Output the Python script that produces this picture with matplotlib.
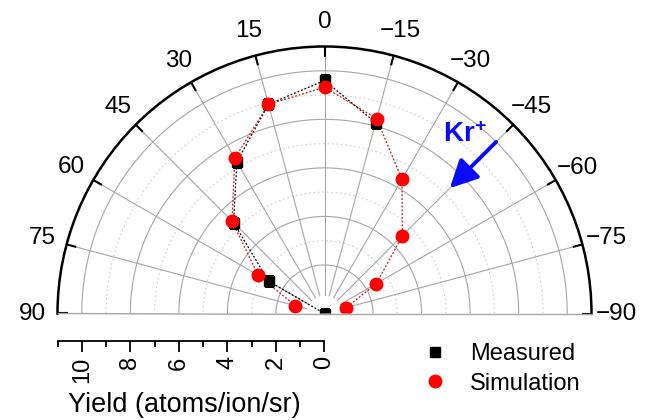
import numpy as np
import matplotlib
matplotlib.use("Agg")
import matplotlib.pyplot as plt
from matplotlib.ticker import FixedLocator

plt.rcParams['font.family'] = ['Liberation Sans', 'DejaVu Sans']
plt.rcParams['mathtext.fontset'] = 'custom'
plt.rcParams['mathtext.rm'] = 'Liberation Sans'
plt.rcParams['mathtext.bf'] = 'Liberation Sans:bold'

# ---- data ----
measured_angle = [-15, 0, 15, 30, 45, 60, 90]
measured_yield = [8.14, 9.60, 8.92, 7.22, 5.30, 2.66, 0.0]

sim_angle = [75, 60, 45, 30, 15, 0, -15, -30, -45, -60, -75]
sim_yield = [1.24, 3.16, 5.39, 7.39, 8.92, 9.32, 8.31, 6.38, 4.54, 2.47, 0.92]

theta_ticks = [90, 75, 60, 45, 30, 15, 0, -15, -30, -45, -60, -75, -90]
theta_labels = [str(a).replace('-', '\u2212') for a in theta_ticks]
r_major = [0, 2, 4, 6, 8, 10]
r_minor = [1, 3, 5, 7, 9, 11]
rmax = 11

W, H = 662, 420
fig = plt.figure(figsize=(W / 100, H / 100), dpi=100)

cx, cy, R = 324.5, 313.5, 267.0
# square axes box; the half-disk wedge is centred vertically inside it
ax = fig.add_axes([(cx - R) / W, ((H - cy) - R / 2) / H, 2 * R / W, 2 * R / H],
                  projection='polar')
ax.set_theta_zero_location('N')
ax.set_theta_direction(1)
ax.set_thetamin(-90)
ax.set_thetamax(90)
ax.set_rlim(0, rmax)
ax.grid(False)
ax.set_yticks([])

grid_c = '#a6a6a6'
th = np.linspace(-np.pi / 2, np.pi / 2, 361)
for r in range(2, 11):
    if r % 2 == 0:
        ax.plot(th, np.full_like(th, r), color=grid_c, lw=0.8, zorder=0.5)
    else:
        ax.plot(th, np.full_like(th, r), color='#cfcfcf', lw=0.8, ls=(0, (1.5, 2.5)), zorder=0.5)
for a in theta_ticks[1:-1]:
    ax.plot([np.radians(a)] * 2, [0.75, rmax], color=grid_c, lw=0.8, zorder=0.5)
# inward black tick marks on the outer arc
tick_len = 10 / R * rmax
for a in theta_ticks:
    ax.plot([np.radians(a)] * 2, [rmax - tick_len, rmax], color='black', lw=1.5,
            zorder=2.5, clip_on=False, solid_capstyle='butt')

ax.set_thetagrids(theta_ticks, labels=theta_labels)
ax.tick_params(axis='x', length=0, pad=11, labelsize=17.5)
ax.spines['polar'].set_linewidth(1.8)
ax.spines['polar'].set_color('black')
for s in ('start', 'end'):
    ax.spines[s].set_color(grid_c)
    ax.spines[s].set_linewidth(1.0)
ax.spines['inner'].set_visible(False)

ma = np.radians(measured_angle)
sa = np.radians(sim_angle)
ax.plot(ma, measured_yield, color='black', lw=0.9, ls=(0, (1.5, 1.5)), zorder=2)
ax.plot(sa, sim_yield, color='#d01010', lw=0.9, ls=(0, (1.5, 1.5)), zorder=2.1)
h1, = ax.plot(ma, measured_yield, ls='none', marker='s', ms=7.5, color='black',
              label='Measured', zorder=3)
h2, = ax.plot(sa, sim_yield, ls='none', marker='o', ms=9, color='#ff0000',
              mec='#ff0000', label='Simulation', zorder=4)

# Kr+ arrow
ax.annotate('', xy=(np.radians(-45), 7.3), xytext=(np.radians(-45), 10.0),
            arrowprops=dict(arrowstyle='-|>,head_length=1,head_width=0.5',
                            color='#0a0aff', lw=2.8, shrinkA=0, shrinkB=0,
                            mutation_scale=17), zorder=5)
fig.text(465 / W, 1 - 135 / H, r'$\mathbf{Kr^{+}}$', color='#0a0aff', fontsize=20,
         ha='center', va='center')

# radial axis below
ax2 = fig.add_axes([(cx - R) / W, (H - 341) / H, R / W, 0.01])
ax2.set_facecolor('none')
for s in ('top', 'left', 'right'):
    ax2.spines[s].set_visible(False)
ax2.spines['bottom'].set_linewidth(1.3)
ax2.set_xlim(rmax, 0)
ax2.set_yticks([])
ax2.xaxis.set_major_locator(FixedLocator(r_major))
ax2.xaxis.set_minor_locator(FixedLocator(r_minor))
ax2.set_xticklabels([str(v) for v in r_major], rotation=90)
ax2.tick_params(axis='x', which='major', length=8, width=1.3, labelsize=17, pad=3)
ax2.tick_params(axis='x', which='minor', length=4, width=1.3)
ax2.set_xlabel('Yield (atoms/ion/sr)', fontsize=19.5, labelpad=7)
ax2.xaxis.label.set_x(0.475)

fig.legend(handles=[h1, h2], loc='upper left', bbox_to_anchor=(423 / W, 1 - 343 / H),
           frameon=False, fontsize=17, handlelength=1.0, handletextpad=1.0,
           labelspacing=0.32, borderpad=0, borderaxespad=0)

fig.savefig('out.png', dpi=100)
